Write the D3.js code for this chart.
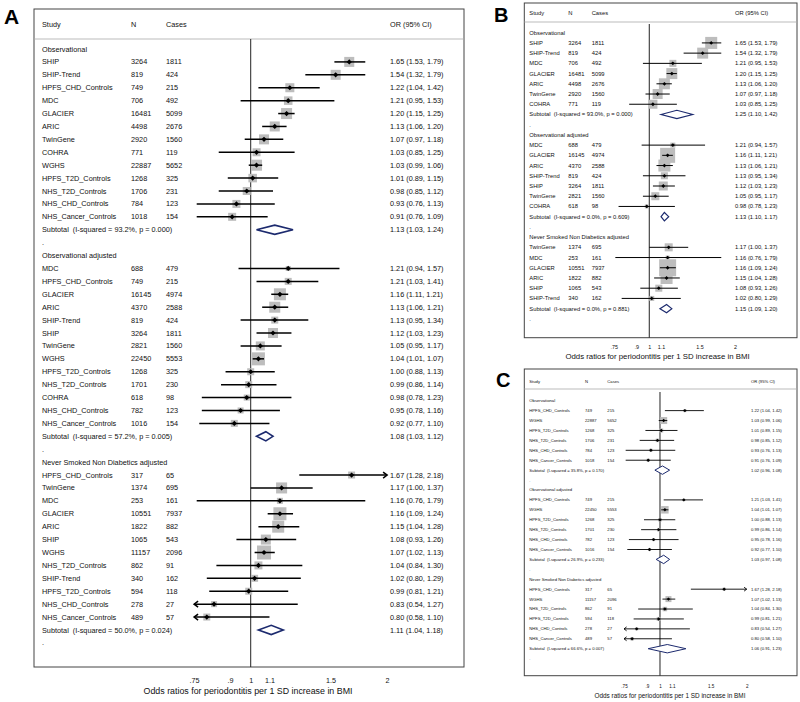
<!DOCTYPE html>
<html><head><meta charset="utf-8">
<script src="https://d3js.org/d3.v7.min.js"></script>
<style>body{margin:0;background:#fff} svg{display:block} text{font-family:"Liberation Sans",Arial,Helvetica,sans-serif;fill:#111}</style>
</head><body><svg id="chart" width="800" height="702"></svg>
<script>
// ---------- DATA ----------
const groupNames = ["Observational", "Observational adjusted", "Never Smoked Non Diabetics adjusted"];
const headers = ["Study", "N", "Cases", "OR (95% CI)"];
const tickValues = [0.75, 0.9, 1, 1.1, 1.5, 2];
const tickLabels = [".75", ".9", "1", "1.1", "1.5", "2"];
const axisTitle = "Odds ratios for periodontitis per 1 SD increase in BMI";
// rows: study, N, cases, OR, lower, upper, weight (%)
const A_obs = [
  ["SHIP",3264,1811,1.65,1.53,1.79,8.0],
  ["SHIP-Trend",819,424,1.54,1.32,1.79,8.0],
  ["HPFS_CHD_Controls",749,215,1.22,1.04,1.42,6.5],
  ["MDC",706,492,1.21,0.95,1.53,5.8],
  ["GLACIER",16481,5099,1.20,1.15,1.25,9.7],
  ["ARIC",4498,2676,1.13,1.06,1.20,8.0],
  ["TwinGene",2920,1560,1.07,0.97,1.18,8.0],
  ["COHRA",771,119,1.03,0.85,1.25,5.1],
  ["WGHS",22887,5652,1.03,0.99,1.06,9.7],
  ["HPFS_T2D_Controls",1268,325,1.01,0.89,1.15,5.8],
  ["NHS_T2D_Controls",1706,231,0.98,0.85,1.12,5.1],
  ["NHS_CHD_Controls",784,123,0.93,0.76,1.13,5.1],
  ["NHS_Cancer_Controls",1018,154,0.91,0.76,1.09,5.1]
];
const A_adj = [
  ["MDC",688,479,1.21,0.94,1.57,2.0],
  ["HPFS_CHD_Controls",749,215,1.21,1.03,1.41,3.9],
  ["GLACIER",16145,4974,1.16,1.11,1.21,11.5],
  ["ARIC",4370,2588,1.13,1.06,1.21,9.7],
  ["SHIP-Trend",819,424,1.13,0.95,1.34,3.9],
  ["SHIP",3264,1811,1.12,1.03,1.23,8.0],
  ["TwinGene",2821,1560,1.05,0.95,1.17,6.5],
  ["WGHS",22450,5553,1.04,1.01,1.07,13.5],
  ["HPFS_T2D_Controls",1268,325,1.00,0.88,1.13,3.9],
  ["NHS_T2D_Controls",1701,230,0.99,0.86,1.14,3.9],
  ["COHRA",618,98,0.98,0.78,1.23,2.9],
  ["NHS_CHD_Controls",782,123,0.95,0.78,1.16,2.9],
  ["NHS_Cancer_Controls",1016,154,0.92,0.77,1.10,3.9]
];
const A_never = [
  ["HPFS_CHD_Controls",317,65,1.67,1.28,2.18,3.9],
  ["TwinGene",1374,695,1.17,1.00,1.37,9.7],
  ["MDC",253,161,1.16,0.76,1.79,2.9],
  ["GLACIER",10551,7937,1.16,1.09,1.24,13.5],
  ["ARIC",1822,882,1.15,1.04,1.28,11.5],
  ["SHIP",1065,543,1.08,0.93,1.26,8.0],
  ["WGHS",11157,2096,1.07,1.02,1.13,15.6],
  ["NHS_T2D_Controls",862,91,1.04,0.84,1.30,5.1],
  ["SHIP-Trend",340,162,1.02,0.80,1.29,3.9],
  ["HPFS_T2D_Controls",594,118,0.99,0.81,1.21,3.9],
  ["NHS_CHD_Controls",278,27,0.83,0.54,1.27,2.9],
  ["NHS_Cancer_Controls",489,57,0.80,0.58,1.10,3.9]
];
// subtotals: I-squared, p, OR, lower, upper
const A_sub = [["93.2%","0.000",1.13,1.03,1.24],["57.2%","0.005",1.08,1.03,1.12],["50.0%","0.024",1.11,1.04,1.18]];

const B_obs = [
  ["SHIP",3264,1811,1.65,1.53,1.79,18.4],
  ["SHIP-Trend",819,424,1.54,1.32,1.79,15.4],
  ["MDC",706,492,1.21,0.95,1.53,6.3],
  ["GLACIER",16481,5099,1.20,1.15,1.25,15.4],
  ["ARIC",4498,2676,1.13,1.06,1.20,15.4],
  ["TwinGene",2920,1560,1.07,0.97,1.18,12.8],
  ["COHRA",771,119,1.03,0.85,1.25,10.3]
];
const B_adj = [
  ["MDC",688,479,1.21,0.94,1.57,3.2],
  ["GLACIER",16145,4974,1.16,1.11,1.21,28.7],
  ["ARIC",4370,2588,1.13,1.06,1.21,18.4],
  ["SHIP-Trend",819,424,1.13,0.95,1.34,6.3],
  ["SHIP",3264,1811,1.12,1.03,1.23,10.3],
  ["TwinGene",2821,1560,1.05,0.95,1.17,8.2],
  ["COHRA",618,98,0.98,0.78,1.23,2.0]
];
const B_never = [
  ["TwinGene",1374,695,1.17,1.00,1.37,8.2],
  ["MDC",253,161,1.16,0.76,1.79,2.0],
  ["GLACIER",10551,7937,1.16,1.09,1.24,36.9],
  ["ARIC",1822,882,1.15,1.04,1.28,18.4],
  ["SHIP",1065,543,1.08,0.93,1.26,6.3],
  ["SHIP-Trend",340,162,1.02,0.80,1.29,3.2]
];
const B_sub = [["93.0%","0.000",1.25,1.10,1.42],["0.0%","0.609",1.13,1.10,1.17],["0.0%","0.881",1.15,1.09,1.20]];

const C_obs = [
  ["HPFS_CHD_Controls",749,215,1.22,1.04,1.42,9],
  ["WGHS",22887,5652,1.03,0.99,1.06,49],
  ["HPFS_T2D_Controls",1268,325,1.01,0.89,1.15,16],
  ["NHS_T2D_Controls",1706,231,0.98,0.85,1.12,12],
  ["NHS_CHD_Controls",784,123,0.93,0.76,1.13,9],
  ["NHS_Cancer_Controls",1018,154,0.91,0.76,1.09,9]
];
const C_adj = [
  ["HPFS_CHD_Controls",749,215,1.21,1.03,1.41,6],
  ["WGHS",22450,5553,1.04,1.01,1.07,56],
  ["HPFS_T2D_Controls",1268,325,1.00,0.88,1.13,12],
  ["NHS_T2D_Controls",1701,230,0.99,0.86,1.14,12],
  ["NHS_CHD_Controls",782,123,0.95,0.78,1.16,9],
  ["NHS_Cancer_Controls",1016,154,0.92,0.77,1.10,9]
];
const C_never = [
  ["HPFS_CHD_Controls",317,65,1.67,1.28,2.18,9],
  ["WGHS",11157,2096,1.07,1.02,1.13,36],
  ["NHS_T2D_Controls",862,91,1.04,0.84,1.30,20],
  ["HPFS_T2D_Controls",594,118,0.99,0.81,1.21,16],
  ["NHS_CHD_Controls",278,27,0.83,0.54,1.27,9],
  ["NHS_Cancer_Controls",489,57,0.80,0.58,1.10,11]
];
const C_sub = [["35.8%","0.170",1.02,0.96,1.08],["26.9%","0.233",1.03,0.97,1.08],["66.6%","0.007",1.06,0.91,1.23]];

// ---------- LAYOUT ----------
const svg = d3.select("#chart");
const f2 = d3.format(".2f");

const panels = [
  {label:"A", lx:4, ly:24, lfs:21, L:34, T:9, R:464, B:667, hy:24, hl:39, vt:39,
   y0:49, step:12.91, cols:[42,131,166,390], fs:7.3, x0:194.1, x1:387.1,
   tickY:680.7, tfs:7.2, titleX:248, titleY:690.7, titleFs:8.85,
   sq:3.54, lw:1.5, pt:2.6, dh:4.6, dw:1.6, ah:4,
   groups:[A_obs,A_adj,A_never], subs:A_sub},
  {label:"B", lx:494, ly:22, lfs:20, L:524.3, T:3, R:797, B:337.7, hy:13.3, hl:22, vt:24,
   y0:32.7, step:10.22, cols:[529.3,568.3,591.7,735], fs:5.8, x0:613.7, x1:735.0,
   tickY:346.7, tfs:5.4, titleX:657.5, titleY:356.7, titleFs:7.8,
   sq:2.8, lw:1.0, pt:1.9, dh:4.2, dw:1.2, ah:3,
   groups:[B_obs,B_adj,B_never], subs:B_sub},
  {label:"C", lx:496, ly:387, lfs:20, L:524.3, T:369, R:797, B:675.7, hy:382, hl:389, vt:392,
   y0:400.7, step:9.92, cols:[529.3,585,607.3,751], fs:4.2, x0:624.0, x1:746.7,
   tickY:686.7, tfs:4.6, titleX:670, titleY:695.7, titleFs:6.4,
   sq:1.0, lw:0.9, pt:1.7, dh:4.2, dw:1.0, ah:2.6,
   groups:[C_obs,C_adj,C_never], subs:C_sub}
];

function drawPanel(p) {
  const g = svg.append("g");
  const x = d3.scaleLog().domain([tickValues[0], tickValues[tickValues.length-1]]).range([p.x0, p.x1]);
  const [dMin, dMax] = x.domain();
  const y = k => p.y0 + k * p.step;
  const txt = (sel, tx, ty, s, fs) => sel.append("text").attr("x", tx).attr("y", ty).attr("dy", "0.35em")
      .style("font-size", (fs || p.fs) + "px").style("white-space", "pre").text(s);

  // panel letter
  g.append("text").attr("x", p.lx).attr("y", p.ly).style("font-size", p.lfs + "px")
    .style("font-weight", "bold").style("fill", "#000").text(p.label);

  // frame
  g.append("rect").attr("x", p.L).attr("y", p.T).attr("width", p.R - p.L).attr("height", p.B - p.T)
    .attr("fill", "none").attr("stroke", "#444").attr("stroke-width", 1);
  g.append("line").attr("x1", p.L).attr("x2", p.R).attr("y1", p.hl).attr("y2", p.hl)
    .attr("stroke", "#aaa").attr("stroke-width", 0.8);
  headers.forEach((h, i) => txt(g, p.cols[i], p.hy, h));

  // null line
  g.append("line").attr("x1", x(1)).attr("x2", x(1)).attr("y1", p.vt).attr("y2", p.B)
    .attr("stroke", "#222").attr("stroke-width", 1);

  let k = 0;
  p.groups.forEach((rows, gi) => {
    txt(g, p.cols[0], y(k), groupNames[gi]); k++;
    rows.forEach(r => {
      const yy = y(k);
      txt(g, p.cols[0], yy, r[0]);
      txt(g, p.cols[1], yy, String(r[1]));
      txt(g, p.cols[2], yy, String(r[2]));
      txt(g, p.cols[3], yy, `${f2(r[3])} (${f2(r[4])}, ${f2(r[5])})`);
      const side = p.sq * Math.sqrt(r[6]);
      g.append("rect").attr("x", x(r[3]) - side/2).attr("y", yy - side/2)
        .attr("width", side).attr("height", side).attr("fill", "#bdbdbd");
      const lo = Math.max(r[4], dMin), hi = Math.min(r[5], dMax);
      g.append("line").attr("x1", x(lo)).attr("x2", x(hi)).attr("y1", yy).attr("y2", yy)
        .attr("stroke", "#000").attr("stroke-width", p.lw);
      if (r[5] > dMax) {
        const ax = x(dMax);
        g.append("path").attr("d", `M${ax - p.ah},${yy - p.ah*0.75}L${ax},${yy}L${ax - p.ah},${yy + p.ah*0.75}`)
          .attr("fill", "none").attr("stroke", "#000").attr("stroke-width", p.lw);
      }
      if (r[4] < dMin) {
        const ax = x(dMin);
        g.append("path").attr("d", `M${ax + p.ah},${yy - p.ah*0.75}L${ax},${yy}L${ax + p.ah},${yy + p.ah*0.75}`)
          .attr("fill", "none").attr("stroke", "#000").attr("stroke-width", p.lw);
      }
      const cx = x(r[3]), s = p.pt;
      g.append("path").attr("d", `M${cx - s},${yy}L${cx},${yy - s}L${cx + s},${yy}L${cx},${yy + s}Z`).attr("fill", "#000");
      k++;
    });
    const sb = p.subs[gi], yy = y(k);
    txt(g, p.cols[0], yy, `Subtotal  (I-squared = ${sb[0]}, p = ${sb[1]})`);
    txt(g, p.cols[3], yy, `${f2(sb[2])} (${f2(sb[3])}, ${f2(sb[4])})`);
    g.append("path").attr("d", `M${x(sb[3])},${yy}L${x(sb[2])},${yy - p.dh}L${x(sb[4])},${yy}L${x(sb[2])},${yy + p.dh}Z`)
      .attr("fill", "#fff").attr("stroke", "#1c2a6e").attr("stroke-width", p.dw);
    k++;
    txt(g, p.cols[0], y(k), "."); k++;
  });

  // x axis
  const axis = d3.axisBottom(x).tickValues(tickValues).tickFormat((d, i) => tickLabels[i])
    .tickSize(0).tickPadding(p.tickY - p.B - 0.36 * p.tfs);
  const ag = g.append("g").attr("transform", `translate(0,${p.B})`).call(axis);
  ag.select(".domain").remove();
  ag.selectAll("text").style("font-size", p.tfs + "px").style("font-family", '"Liberation Sans",Arial,sans-serif').attr("fill", "#111");
  g.append("text").attr("x", p.titleX).attr("y", p.titleY).attr("dy", "0.35em").attr("text-anchor", "middle")
    .style("font-size", p.titleFs + "px").text(axisTitle);
}
panels.forEach(drawPanel);
</script></body></html>
